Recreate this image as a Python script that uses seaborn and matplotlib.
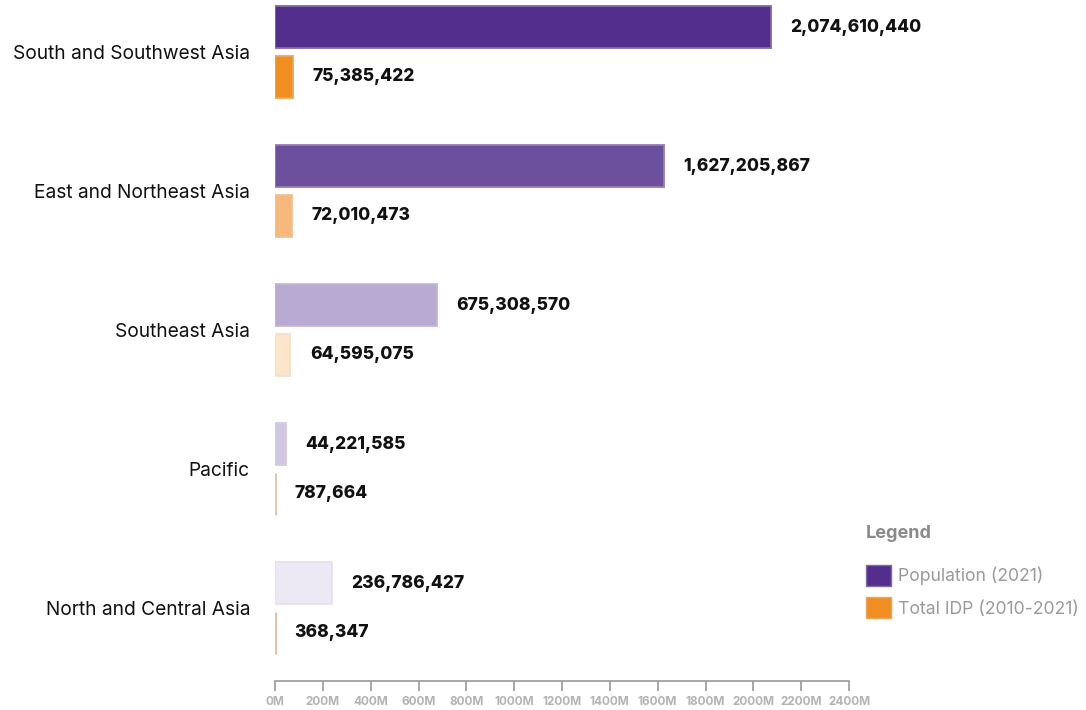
import matplotlib
matplotlib.use("Agg")
import matplotlib.pyplot as plt
import matplotlib.colors as mcolors
from matplotlib.patches import Patch
import seaborn as sns
import pandas as pd

regions = [
    "South and Southwest Asia",
    "East and Northeast Asia",
    "Southeast Asia",
    "Pacific",
    "North and Central Asia",
]
population_2021 = [2074610440, 1627205867, 675308570, 44221585, 236786427]
idp_2010_2021 = [75385422, 72010473, 64595075, 787664, 368347]

series_names = ["Population (2021)", "Total IDP (2010-2021)"]
purple_shades = ["#532e8d", "#6c4f9d", "#b8aad3", "#d0c7e3", "#ece8f4"]
orange_shades = ["#f08e22", "#f6b87b", "#fde5cc", "#fce6cf", "#f8e1c6"]

tick_values = [i * 200e6 for i in range(13)]
tick_labels = [f"{i * 200}M" for i in range(13)]

df = pd.DataFrame({
    "region": regions * 2,
    "value": population_2021 + idp_2010_2021,
    "series": [series_names[0]] * len(regions) + [series_names[1]] * len(regions),
})

sns.set_theme(style="white")
plt.rcParams["font.family"] = ["Inter", "DejaVu Sans"]

W, H = 1086, 710
fig = plt.figure(figsize=(W / 100, H / 100), dpi=100)
ax = fig.add_axes([275 / W, 29 / H, 574 / W, 681 / H])

sns.barplot(
    data=df, y="region", x="value", hue="series", order=regions,
    hue_order=series_names, orient="h", width=0.712, gap=0.15,
    palette=[purple_shades[0], orange_shades[0]], legend=False, ax=ax,
)


def border(c, k=0.35):
    r, g, b = mcolors.to_rgb(c)
    return (r + (0.86 - r) * k, g + (0.84 - g) * k, b + (0.82 - b) * k)


def darker(c, k=0.12):
    r, g, b = mcolors.to_rgb(c)
    return (r * (1 - k), g * (1 - k), b * (1 - k))


for container, shades, values in zip(ax.containers, [purple_shades, orange_shades],
                                     [population_2021, idp_2010_2021]):
    for bar, col, val in zip(container, shades, values):
        bar.set_facecolor(col)
        if val < 10e6:
            # hairline bars get a thicker outline so they stay visible
            bar.set_edgecolor(darker(col))
            bar.set_linewidth(2.4)
        else:
            bar.set_edgecolor(border(col))
            bar.set_linewidth(1.3)
    ax.bar_label(container, labels=[f"{v:,}" for v in values], padding=14,
                 fontsize=12.5, fontweight="heavy", color="#111111")

ax.set_xlim(0, 2400e6)
ax.set_ylim(4.525, -0.374)
ax.set_xticks(tick_values)
ax.set_xticklabels(tick_labels, fontsize=8.5, fontweight="bold", color="#b3b3b3")
ax.set_xlabel("")
ax.set_ylabel("")
ax.tick_params(axis="x", bottom=True, direction="out", length=7, width=1.2,
               color="#9a9a9a", pad=4)
ax.tick_params(axis="y", left=False, length=0, pad=18, labelsize=13.8,
               labelcolor="#111111")

for side in ["top", "right", "left"]:
    ax.spines[side].set_visible(False)
ax.spines["bottom"].set_color("#9a9a9a")
ax.spines["bottom"].set_linewidth(1.2)

fig.text(866 / W, 1 - 534 / H, "Legend", fontsize=13, fontweight="bold",
         color="#8a8a8a", ha="left", va="center")
handles = [Patch(facecolor=purple_shades[0], edgecolor=border(purple_shades[0])),
           Patch(facecolor=orange_shades[0], edgecolor=border(orange_shades[0]))]
leg = fig.legend(
    handles, series_names, loc="upper left",
    bbox_to_anchor=(850 / W, 1 - 549 / H), frameon=False,
    fontsize=12.7, handlelength=1.42, handleheight=1.48,
    handletextpad=0.42, labelspacing=0.62,
)
for t in leg.get_texts():
    t.set_color("#9a9a9a")

fig.savefig("out.png", dpi=100, facecolor="white")
